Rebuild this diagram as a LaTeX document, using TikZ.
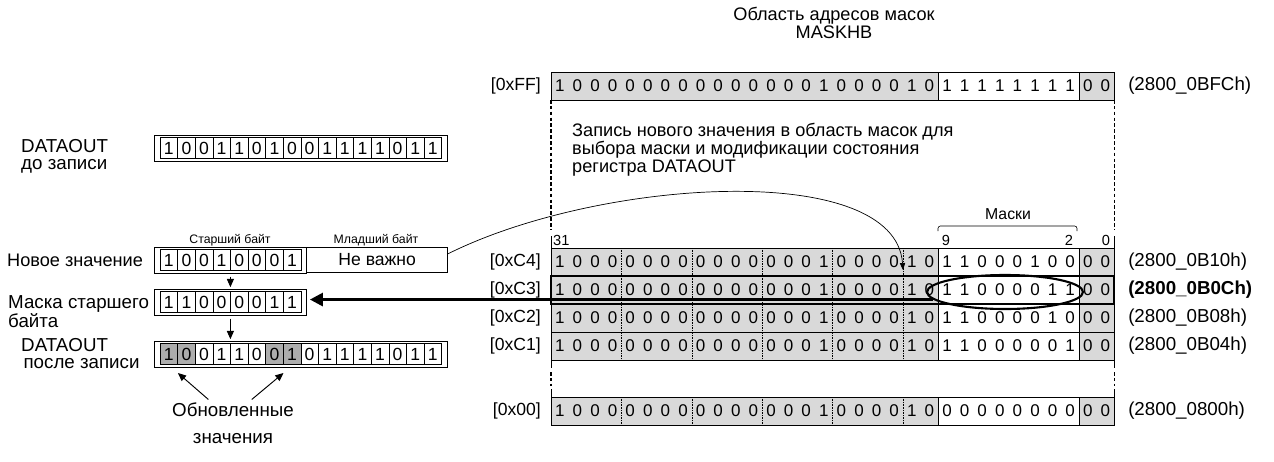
\documentclass[tikz,border=0pt]{standalone}
\usepackage{fontspec}
\setmainfont{Liberation Sans}
\usetikzlibrary{positioning, shapes.geometric, arrows.meta, fit, calc}
\definecolor{tgray}{HTML}{D9D9D9}
\definecolor{dgray}{HTML}{ADADAD}

\begin{document}
\begin{tikzpicture}[
  x=0.3mm, y=-0.3mm,
  font=\fontsize{15}{14.5}\selectfont,
  cell/.style={draw, line width=0.5pt, minimum width=5.28mm, minimum height=6.3mm, inner sep=0pt},
  frame/.style={draw, line width=0.5pt, inner xsep=1.5mm, inner ysep=0.6mm},
  bit/.style={inner sep=0pt, font=\fontsize{14.5}{14.5}\selectfont},
  rowlbl/.style={anchor=east, inner sep=0pt},
  adrlbl/.style={anchor=west, inner sep=0pt, font=\fontsize{16}{16}\selectfont},
  bitno/.style={inner sep=0pt, font=\fontsize{12.5}{12.5}\selectfont},
  labl/.style={anchor=north west, inner sep=0pt, align=left, font=\fontsize{16}{15}\selectfont},
  nib/.style={densely dotted, line width=0.4pt},
  dashline/.style={line width=1pt, dash pattern=on 3pt off 2pt},
  downarr/.style={-{Triangle[length=7pt,width=6pt]}, line width=0.8pt, shorten <=3pt, shorten >=1.5pt},
  updarr/.style={-{Triangle[length=7pt,width=6pt]}, line width=0.8pt},
]
\useasboundingbox (0,0) rectangle (1274,461);

% Title
\node[align=center, font=\fontsize{15.5}{13.5}\selectfont] (title) at (834,23) {Область адресов масок\\MASKHB};

% Mask address table
\foreach \rw/\yy/\msk/\adr/\ft in {
  FF/72/{1,1,1,1,1,1,1,1}/(2800\_0BFCh)/\mdseries,
  C4/248/{1,1,0,0,0,1,0,0}/(2800\_0B10h)/\mdseries,
  C3/276/{1,1,0,0,0,0,1,1}/(2800\_0B0Ch)/\bfseries,
  C2/304/{1,1,0,0,0,0,1,0}/(2800\_0B08h)/\mdseries,
  C1/332/{1,1,0,0,0,0,0,1}/(2800\_0B04h)/\mdseries,
  00/397/{0,0,0,0,0,0,0,0}/(2800\_0800h)/\mdseries}{
  \fill[tgray] (551,\yy) rectangle ++(387.2,28);
  \fill[tgray] (1079,\yy) rectangle ++(35.2,28);
  \draw[line width=0.6pt] (551,\yy) rectangle ++(563.2,28);
  \draw[line width=0.6pt] (938.2,\yy) -- ++(0,28) (1079,\yy) -- ++(0,28);
  \foreach \dg [count=\ii from 0] in {1,0,0,0,0,0,0,0,0,0,0,0,0,0,0,1,0,0,0,0,1,0}
    \node[bit] (\rw-\ii) at ({551+17.6*(\ii+0.5)},{\yy+14}) {\dg};
  \foreach \dg [count=\ii from 22] in \msk
    \node[bit] (\rw-\ii) at ({551+17.6*(\ii+0.5)},{\yy+14}) {\dg};
  \foreach \ii in {30,31}
    \node[bit] (\rw-\ii) at ({551+17.6*(\ii+0.5)},{\yy+14}) {0};
  \node[rowlbl] (lbl\rw) at (541,{\yy+14}) {[0x\rw]};
  \node[adrlbl] (adr\rw) at (1128,{\yy+14}) {\ft\adr};
}

% Nibble separators
\foreach \kk in {1,...,5} {
  \draw[nib] ({551+70.4*\kk},248) -- ++(0,112);
  \draw[nib] ({551+70.4*\kk},397) -- ++(0,28);
}

% Side lines of the address range
\foreach \xx in {551,1114.2} {
  \draw[dashline] (\xx,100) -- (\xx,229);
  \draw[line width=0.6pt] (\xx,236) -- (\xx,248);
  \draw[line width=0.6pt] (\xx,360) -- (\xx,368);
  \draw[dashline] (\xx,372) -- (\xx,386);
  \draw[line width=0.6pt] (\xx,389) -- (\xx,397);
}

% Bit numbers and mask field
\node[bitno, anchor=west] (b31) at (553,240) {31};
\node[bitno] (b9) at (946,240) {9};
\node[bitno] (b2) at (1069,240) {2};
\node[bitno] (b0) at (1106,240) {0};
\draw[line width=0.5pt, rounded corners=2pt] (938,231) -- (938,226) -- (1077,226) -- (1077,231);
\node[bitno, font=\fontsize{13.5}{13.5}\selectfont] (masks) at (1008,214) {Маски};

% Note
\node[labl, font=\fontsize{15.5}{15.5}\selectfont] (note) at (572,123)
  {Запись нового значения в область масок для\\выбора маски и модификации состояния\\регистра DATAOUT};

% Selected row
\draw[line width=2pt] (551,276) rectangle (1114.2,304);
\node[ellipse, draw, line width=1.8pt, minimum width=46.8mm, minimum height=10.2mm, inner sep=0pt] (sel) at (1005,292) {};

% DATAOUT before write
\node[labl] (lbefore) at (21,139) {DATAOUT\\до записи};
\foreach \dg [count=\ii from 0] in {1,0,0,1,1,0,1,0,0,1,1,1,1,0,1,1}
  \node[cell] (d\ii) at ({168.8+17.6*\ii},148) {\dg};
\node[frame, fit=(d0)(d15)] (dframe) {};

% New value
\node[anchor=west, inner sep=0pt, font=\fontsize{15.5}{15.5}\selectfont] (lnew) at (7,260) {Новое значение};
\foreach \dg [count=\ii from 0] in {1,0,0,1,0,0,0,1}
  \node[cell] (n\ii) at ({168.8+17.6*\ii},260) {\dg};
\node[frame, fit=(n0)(n7)] (nframe) {};
\node[draw, line width=0.5pt, minimum width=42.3mm, minimum height=7.5mm, inner sep=0pt, anchor=west] (dontcare) at (nframe.east) {Не важно};
\node[font=\fontsize{10.5}{10.5}\selectfont] (hi) at (230,240) {Старший байт};
\node[font=\fontsize{10.5}{10.5}\selectfont] (lo) at (376,240) {Младший байт};

% High byte mask
\node[labl] (lmask) at (8,295) {Маска старшего\\байта};
\foreach \dg [count=\ii from 0] in {1,1,0,0,0,0,1,1}
  \node[cell] (m\ii) at ({168.8+17.6*\ii},302) {\dg};
\node[frame, fit=(m0)(m7)] (mframe) {};

% DATAOUT after write
\node[labl] (lafter) at (21,338) {DATAOUT\\\hspace*{2pt}после записи};
\foreach \dg/\cl [count=\ii from 0] in {1/dgray,0/dgray,0/white,1/white,1/white,0/white,0/dgray,1/dgray,0/white,1/white,1/white,1/white,1/white,0/white,1/white,1/white}
  \node[cell, fill=\cl] (a\ii) at ({168.8+17.6*\ii},354) {\dg};
\node[frame, fit=(a0)(a15)] (aframe) {};

% Updated values
\node[align=center, font=\fontsize{16}{23}\selectfont, anchor=north, inner sep=0pt] (upd) at (233,403) {Обновленные\\значения};
\draw[updarr] ([xshift=-21pt, yshift=3pt]upd.north) -- ([yshift=-7pt]a0.south east);
\draw[updarr] ([xshift=16pt, yshift=3pt]upd.north) -- ([yshift=-7pt]a6.south east);

% Connectors
\draw[downarr] (nframe.south) -- (mframe.north);
\draw[downarr] (mframe.south) -- (mframe.south |- aframe.north);
\coordinate (tip) at (903,270);
\draw[line width=0.6pt, -{Triangle[length=6pt,width=4.5pt]}] (dontcare.5) .. controls (600,178) and (895,160) .. (tip);
\draw[line width=2.4pt, -{Triangle[length=11pt,width=11pt]}, shorten >=3pt] (sel.186) -- (sel.186 -| mframe.east);
\end{tikzpicture}
\end{document}
